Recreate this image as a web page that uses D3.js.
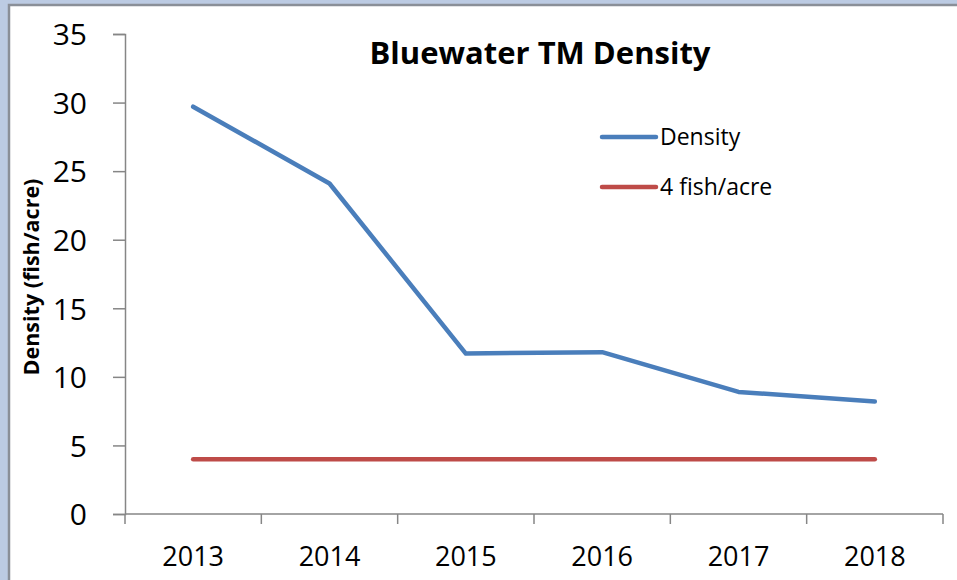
<!doctype html>
<html>
<head>
<script src="https://d3js.org/d3.v7.min.js"></script>
<style>
body { margin:0; background:#fff; }
svg text { font-family: "Open Sans", sans-serif; fill:#000; }
</style>
</head>
<body>
<script>
var years = ['2013','2014','2015','2016','2017','2018'];
var density = [29.7, 24.1, 11.7, 11.8, 8.9, 8.2];
var target = [4, 4, 4, 4, 4, 4];
var yTicks = [0, 5, 10, 15, 20, 25, 30, 35];
var seriesNames = ['Density', '4 fish/acre'];
var seriesColors = ['#4a7ebb', '#be4b48'];

var W = 957, H = 580;
var pLeft = 125, pRight = 943, pTop = 34, pBottom = 514;

var svg = d3.select('body').append('svg').attr('width', W).attr('height', H);

// slide frame round the chart
svg.append('rect').attr('x',0).attr('y',0).attr('width',W).attr('height',H).style('fill','#bccbe3');
svg.append('rect').attr('x',9).attr('y',5).attr('width',W).attr('height',H)
	.style('fill','#fff').style('stroke','#8a8f98').style('stroke-width',2.5);

var x = d3.scaleBand().domain(years).range([pLeft, pRight]);
var y = d3.scaleLinear().domain([0, 35]).range([pBottom, pTop]);

// y axis
var yAxis = d3.axisLeft(y).tickValues(yTicks).tickSize(12).tickPadding(26);
var yG = svg.append('g').attr('transform','translate(' + pLeft + ',0)').call(yAxis);
yG.select('.domain').style('stroke','#868686').style('stroke-width',1.5);
yG.selectAll('.tick line').style('stroke','#868686').style('stroke-width',1.5);
yG.selectAll('.tick text').style('font-size','30px').attr('dy','0.36em');

// x axis: labels centred in bands, ticks on band edges
var xAxis = d3.axisBottom(x).tickSize(0).tickPadding(33);
var xG = svg.append('g').attr('transform','translate(0,' + pBottom + ')').call(xAxis);
xG.select('.domain').remove();
xG.selectAll('.tick text').style('font-size','27px');
svg.append('line').attr('x1',pLeft).attr('x2',pRight).attr('y1',pBottom).attr('y2',pBottom)
	.style('stroke','#868686').style('stroke-width',1.5);
svg.selectAll('.xtick').data(years.concat(['end'])).enter().append('line')
	.attr('class','xtick')
	.attr('x1',function(d,i){return pLeft + i * x.step();})
	.attr('x2',function(d,i){return pLeft + i * x.step();})
	.attr('y1',pBottom).attr('y2',pBottom + 10)
	.style('stroke','#868686').style('stroke-width',1.5);

// lines
var line = d3.line()
	.x(function(d,i){return x(years[i]) + x.bandwidth()/2;})
	.y(function(d){return y(d);});

svg.append('path').attr('d', line(target))
	.style('fill','none').style('stroke',seriesColors[1]).style('stroke-width',4.5).style('stroke-linecap','round');
svg.append('path').attr('d', line(density))
	.style('fill','none').style('stroke',seriesColors[0]).style('stroke-width',4.5)
	.style('stroke-linecap','round').style('stroke-linejoin','round');

// title
svg.append('text').attr('x',540).attr('y',64).attr('text-anchor','middle')
	.style('font-size','31px').style('font-weight','bold').text('Bluewater TM Density');

// y label
svg.append('text').attr('transform','translate(39,277) rotate(-90)').attr('text-anchor','middle')
	.style('font-size','21.5px').style('font-weight','bold').text('Density (fish/acre)');

// legend
var legend = svg.selectAll('.legend').data(seriesNames).enter().append('g')
	.attr('class','legend')
	.attr('transform',function(d,i){return 'translate(602,' + (137 + i * 50) + ')';});
legend.append('line').attr('x1',0).attr('x2',54).attr('y1',0).attr('y2',0)
	.style('stroke',function(d,i){return seriesColors[i];}).style('stroke-width',4.5).style('stroke-linecap','round');
legend.append('text').attr('x',58).attr('y',0).attr('dy','0.35em')
	.style('font-size','23px').text(function(d){return d;});
</script>
</body>
</html>
